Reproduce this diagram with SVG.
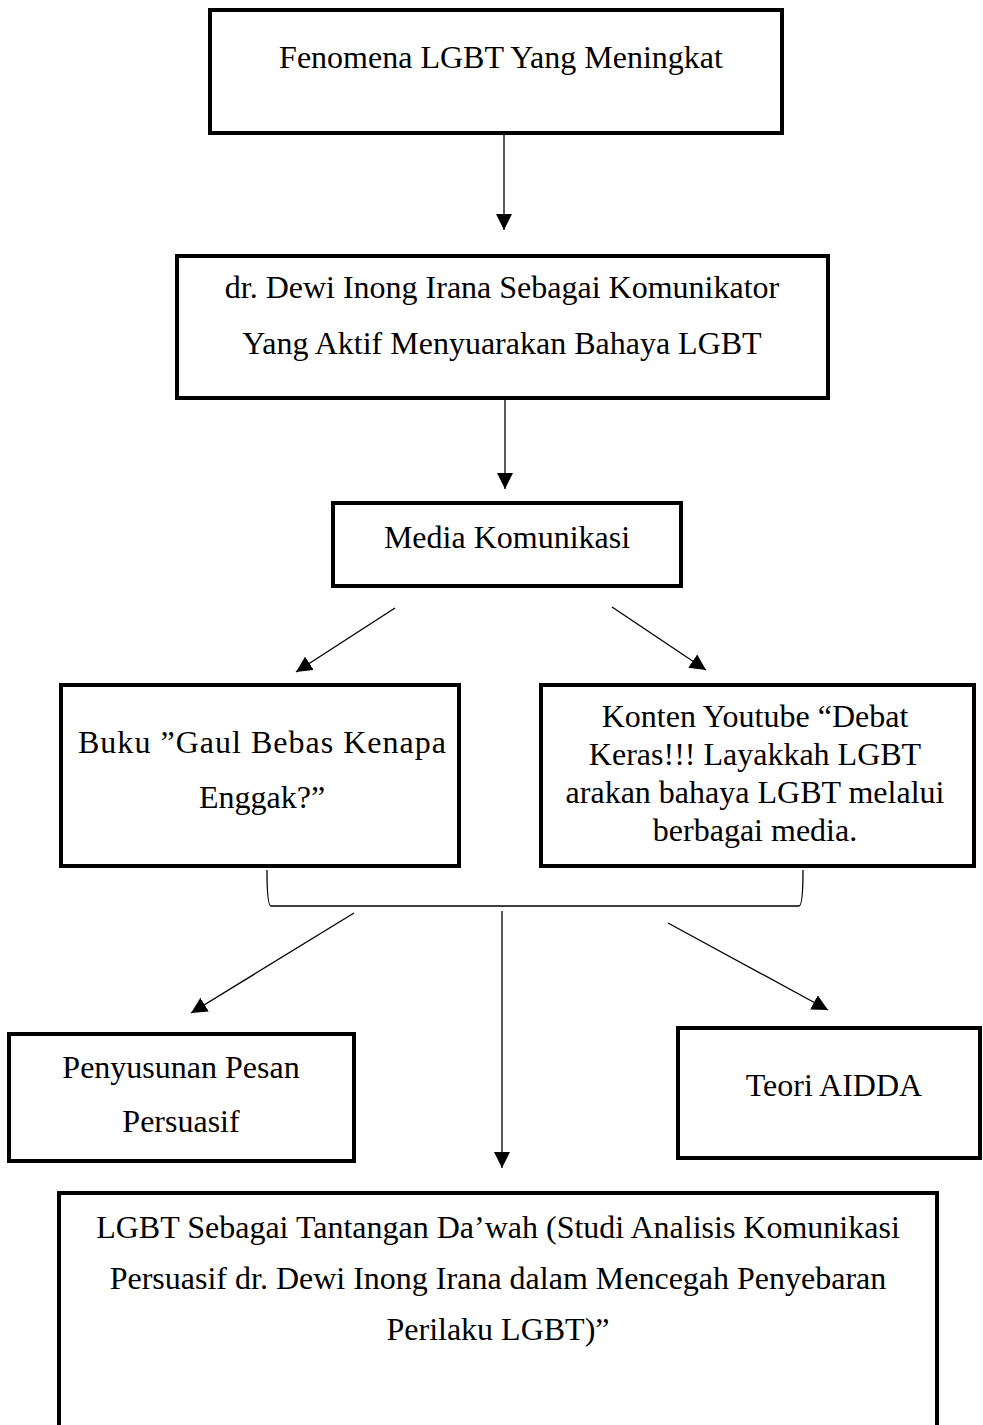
<svg xmlns="http://www.w3.org/2000/svg" width="983" height="1425" viewBox="0 0 983 1425">
<defs>
<style>
.box{fill:#fff;stroke:#000;stroke-width:4}
.t{font-family:"Liberation Serif","Times New Roman",serif;font-size:32px;fill:#000;text-anchor:middle}
.c{fill:none;stroke:#000;stroke-width:1.3}
</style>
<marker id="ah" markerUnits="userSpaceOnUse" markerWidth="16" markerHeight="16" refX="16" refY="8" orient="auto">
<path d="M0,0 L16,8 L0,16 Z" fill="#000"/>
</marker>
</defs>
<rect width="983" height="1425" fill="#fff"/>
<g id="connectors">
<line class="c" x1="504" y1="133" x2="504" y2="230" marker-end="url(#ah)"/>
<line class="c" x1="505" y1="398" x2="505" y2="489" marker-end="url(#ah)"/>
<line class="c" x1="395" y1="608" x2="296" y2="672" marker-end="url(#ah)"/>
<line class="c" x1="612" y1="607" x2="706" y2="670" marker-end="url(#ah)"/>
<path class="c" d="M267,870 Q267,906 271,906 L799,906 Q803,906 803,870"/>
<line class="c" x1="354" y1="913" x2="191" y2="1013" marker-end="url(#ah)"/>
<line class="c" x1="502" y1="911" x2="502" y2="1168" marker-end="url(#ah)"/>
<line class="c" x1="668" y1="923" x2="828" y2="1010" marker-end="url(#ah)"/>
</g>
<g id="n1">
<rect class="box" x="210" y="10" width="572" height="123"/>
<text class="t" x="501" y="68">Fenomena LGBT Yang Meningkat</text>
</g>
<g id="n2">
<rect class="box" x="177" y="256" width="651" height="142"/>
<text class="t" x="502" y="298">dr. Dewi Inong Irana Sebagai Komunikator</text>
<text class="t" x="502" y="354">Yang Aktif Menyuarakan Bahaya LGBT</text>
</g>
<g id="n3">
<rect class="box" x="333" y="503" width="348" height="83"/>
<text class="t" x="507" y="548">Media Komunikasi</text>
</g>
<g id="n4">
<rect class="box" x="61" y="685" width="398" height="181"/>
<text class="t" x="262" y="753" textLength="368" lengthAdjust="spacing">Buku ”Gaul Bebas Kenapa</text>
<text class="t" x="262" y="808">Enggak?”</text>
</g>
<g id="n5">
<rect class="box" x="541" y="685" width="433" height="181"/>
<text class="t" x="755" y="727">Konten Youtube “Debat</text>
<text class="t" x="755" y="765">Keras!!! Layakkah LGBT</text>
<text class="t" x="755" y="803">arakan bahaya LGBT melalui</text>
<text class="t" x="755" y="841">berbagai media.</text>
</g>
<g id="n6">
<rect class="box" x="9" y="1034" width="345" height="127"/>
<text class="t" x="181" y="1078">Penyusunan Pesan</text>
<text class="t" x="181" y="1132">Persuasif</text>
</g>
<g id="n7">
<rect class="box" x="678" y="1028" width="302" height="130"/>
<text class="t" x="834" y="1096">Teori AIDDA</text>
</g>
<g id="n8">
<rect class="box" x="59" y="1193" width="878" height="260"/>
<text class="t" x="498" y="1238">LGBT Sebagai Tantangan Da’wah (Studi Analisis Komunikasi</text>
<text class="t" x="498" y="1289">Persuasif dr. Dewi Inong Irana dalam Mencegah Penyebaran</text>
<text class="t" x="498" y="1340">Perilaku LGBT)”</text>
</g>
</svg>
